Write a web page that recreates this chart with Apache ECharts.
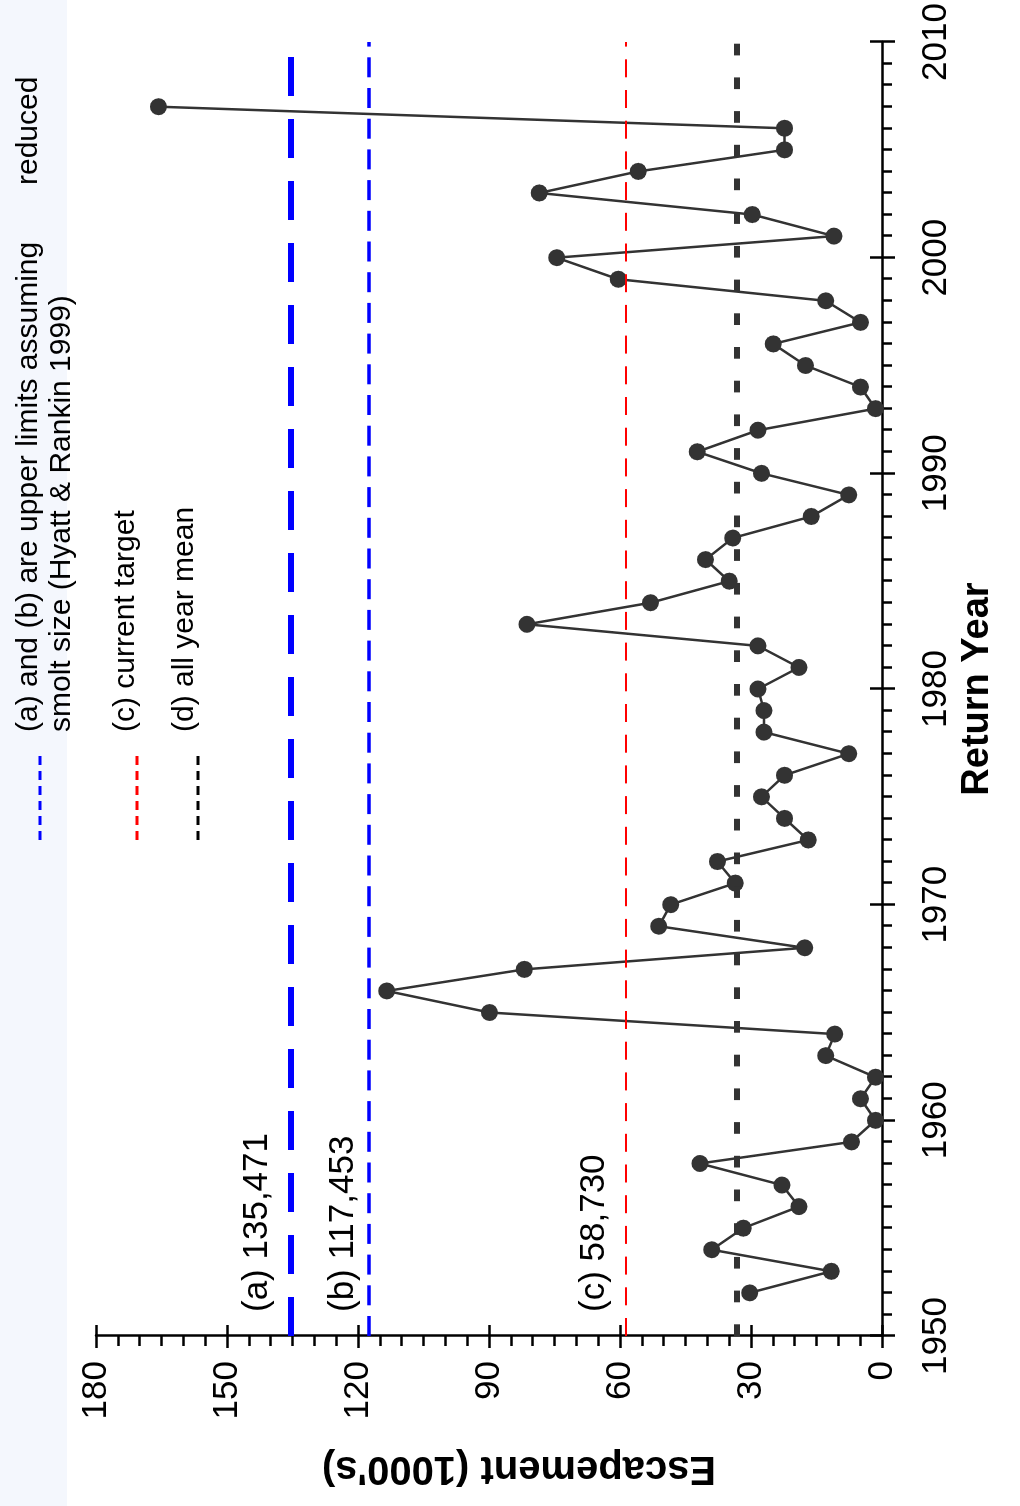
<!DOCTYPE html>
<html>
<head>
<meta charset="utf-8">
<script src="https://cdn.jsdelivr.net/npm/echarts@6/dist/echarts.min.js"></script>
<style>
html,body{margin:0;padding:0;width:1020px;height:1506px;overflow:hidden;background:#fff;}
#chart{position:absolute;left:0;top:0;width:1506px;height:1020px;transform-origin:0 0;transform:translateY(1506px) rotate(-90deg);}
</style>
</head>
<body>
<div id="chart"></div>
<script>
// ---- data ----
const years = [1952,1953,1954,1955,1956,1957,1958,1959,1960,1961,1962,1963,1964,1965,1966,1967,1968,1969,1970,1971,1972,1973,1974,1975,1976,1977,1978,1979,1980,1981,1982,1983,1984,1985,1986,1987,1988,1989,1990,1991,1992,1993,1994,1995,1996,1997,1998,1999,2000,2001,2002,2003,2004,2005,2006,2007];
const escapement = [30.3,11.6,39.0,31.8,19.0,22.9,41.7,7.0,1.5,4.9,1.5,12.9,10.8,89.9,113.4,81.9,17.7,51.1,48.4,33.6,37.7,16.9,22.3,27.6,22.3,7.6,27.0,27.0,28.4,19.0,28.4,81.3,53.0,35.0,40.4,34.2,16.2,7.6,27.6,42.3,28.4,1.5,4.9,17.5,24.9,4.9,12.9,60.4,74.5,11.0,29.7,78.5,55.8,22.3,22.3,165.7];
const yearTicks = [1950,1960,1970,1980,1990,2000,2010];
const escTicks = [0,30,60,90,120,150,180];
const refValues = [135.471, 117.453, 58.730];
const refLabels = ['(a) 135,471', '(b) 117,453', '(c) 58,730'];
const allYearMean = 33.3;
const legendLines = ['(a) and (b) are upper limits assuming', 'smolt size (Hyatt & Rankin 1999)', '(c) current target', '(d) all year mean'];
const legendExtra = 'reduced';
const xName = 'Return Year';
const yName = "Escapement (1000's)";

const FONT = '"Liberation Sans", Arial, Helvetica, sans-serif';
const chart = echarts.init(document.getElementById('chart'), null, {width:1506, height:1020, renderer:'canvas'});

const axisCommon = {
  type:'value', splitLine:{show:false}, minorSplitLine:{show:false}
};
const blk = {color:'#000', width:2.5};

const option = {
  animation:false,
  backgroundColor:'#ffffff',
  grid:{left:170, right:42, top:96, bottom:138, containLabel:false},
  xAxis:[
    Object.assign({}, axisCommon, {
      min:yearTicks[0], max:yearTicks[yearTicks.length-1], interval:10, position:'bottom',
      axisLine:{show:true, lineStyle:blk},
      axisTick:{show:true, inside:false, length:13, lineStyle:blk},
      minorTick:{show:true, splitNumber:10, length:10, lineStyle:blk},
      axisLabel:{color:'#000', fontSize:35, fontFamily:FONT, margin:37, formatter:(v)=>String(v)},
      name:xName, nameLocation:'middle', nameGap:73,
      nameTextStyle:{color:'#000', fontSize:38, fontWeight:'bold', fontFamily:FONT}
    }),
    Object.assign({}, axisCommon, {
      min:yearTicks[0], max:yearTicks[yearTicks.length-1], interval:10, position:'bottom', offset:0,
      axisLine:{show:false},
      axisTick:{show:true, inside:true, length:12, lineStyle:blk},
      axisLabel:{show:false}
    })
  ],
  yAxis:[
    Object.assign({}, axisCommon, {
      min:escTicks[0], max:escTicks[escTicks.length-1], interval:30, position:'left',
      axisLine:{show:true, lineStyle:blk},
      axisTick:{show:true, inside:false, length:12, lineStyle:blk},
      minorTick:{show:true, splitNumber:6, length:10, lineStyle:blk},
      axisLabel:{color:'#000', fontSize:35, fontFamily:FONT, margin:25, formatter:(v)=>String(v)},
      name:yName, nameLocation:'middle', nameGap:112,
      nameTextStyle:{color:'#000', fontSize:40, fontWeight:'bold', fontFamily:FONT, padding:[0,60,0,0]}
    }),
    Object.assign({}, axisCommon, {
      min:escTicks[0], max:escTicks[escTicks.length-1], interval:30, position:'left', offset:0,
      axisLine:{show:false},
      axisTick:{show:true, inside:true, length:11, lineStyle:blk},
      axisLabel:{show:false}
    })
  ],
  graphic:[
    {type:'rect', z:-10, silent:true, shape:{x:0, y:0, width:1506, height:67}, style:{fill:'#f4f7fd'}},
    {type:'line', shape:{x1:666, y1:40, x2:752, y2:40}, style:{stroke:'#0000ff', lineWidth:3, lineDash:[9,6]}},
    {type:'line', shape:{x1:666, y1:137, x2:752, y2:137}, style:{stroke:'#ff0000', lineWidth:3, lineDash:[9,6]}},
    {type:'line', shape:{x1:666, y1:198, x2:752, y2:198}, style:{stroke:'#000000', lineWidth:3, lineDash:[9,6]}},
    {type:'text', x:774, y:29, style:{text:legendLines[0], fontSize:30, fontFamily:FONT, fill:'#000', verticalAlign:'middle'}},
    {type:'text', x:1321, y:29, style:{text:legendExtra, fontSize:30, fontFamily:FONT, fill:'#000', verticalAlign:'middle'}},
    {type:'text', x:774, y:62, style:{text:legendLines[1], fontSize:30, fontFamily:FONT, fill:'#000', verticalAlign:'middle'}},
    {type:'text', x:774, y:126, style:{text:legendLines[2], fontSize:30, fontFamily:FONT, fill:'#000', verticalAlign:'middle'}},
    {type:'text', x:774, y:185, style:{text:legendLines[3], fontSize:30, fontFamily:FONT, fill:'#000', verticalAlign:'middle'}}
  ],
  series:[{
    type:'line', xAxisIndex:0, yAxisIndex:0,
    data: years.map((y,i)=>[y, escapement[i]]),
    symbol:'circle', symbolSize:17,
    lineStyle:{color:'#333333', width:2.5},
    itemStyle:{color:'#333333'},
    z:3,
    markLine:{
      silent:true, symbol:'none', animation:false,
      data:[
        {yAxis:refValues[0], lineStyle:{color:'#0000ff', width:6, type:[39,23]},
         label:{show:true, position:'insideStartTop', formatter:refLabels[0], distance:[24,16], color:'#000', fontSize:35, fontFamily:FONT}},
        {yAxis:refValues[1], lineStyle:{color:'#0000ff', width:3.5, type:[20,10.7]},
         label:{show:true, position:'insideStartTop', formatter:refLabels[1], distance:[24,8], color:'#000', fontSize:35, fontFamily:FONT}},
        {yAxis:refValues[2], lineStyle:{color:'#ff0000', width:2.2, type:[18,12.7]},
         label:{show:true, position:'insideStartTop', formatter:refLabels[2], distance:[24,14], color:'#000', fontSize:35, fontFamily:FONT}},
        {yAxis:allYearMean, lineStyle:{color:'#333333', width:6, type:[11.7,22]},
         label:{show:false}}
      ]
    }
  }]
};
chart.setOption(option);
</script>
</body>
</html>
